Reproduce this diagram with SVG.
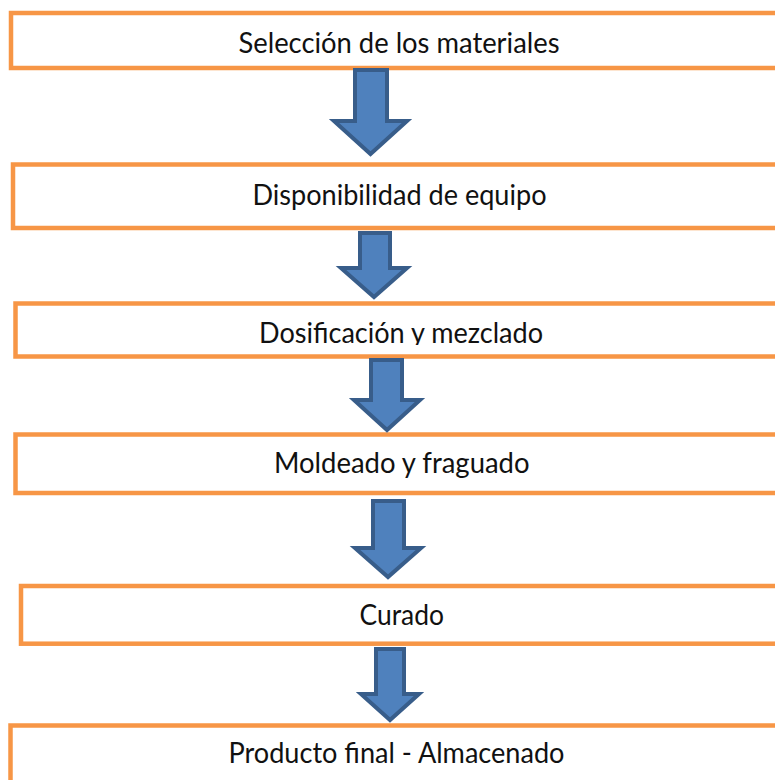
<svg xmlns="http://www.w3.org/2000/svg" width="775" height="780" viewBox="0 0 775 780">
  <style>
    .box { fill: #FFFFFF; stroke: #F79646; stroke-width: 4.5; }
    .arrow { fill: #4F81BD; stroke: #385D8A; stroke-width: 4; stroke-linejoin: miter; }
    .lbl { font-family: Lato, "Open Sans", "Liberation Sans", sans-serif; font-size: 28px; fill: #111111; }
  </style>
  <defs>
    <clipPath id="clip3">
      <rect x="0" y="300" width="775" height="45"/>
    </clipPath>
  </defs>
  <rect width="775" height="780" fill="#FFFFFF"/>

  <g id="node-seleccion">
    <rect class="box" x="11" y="13" width="776" height="55"/>
    <text class="lbl" x="238.5" y="53.3" textLength="321" lengthAdjust="spacingAndGlyphs">Selección de los materiales</text>
  </g>

  <g id="node-disponibilidad">
    <rect class="box" x="13" y="164.5" width="776" height="63.5"/>
    <text class="lbl" x="252.5" y="205" textLength="294" lengthAdjust="spacingAndGlyphs">Disponibilidad de equipo</text>
  </g>

  <g id="node-dosificacion">
    <rect class="box" x="15.5" y="303.5" width="776" height="53"/>
    <text class="lbl" x="259" y="343.3" textLength="284" lengthAdjust="spacingAndGlyphs" clip-path="url(#clip3)">Dosificación y mezclado</text>
  </g>

  <g id="node-moldeado">
    <rect class="box" x="15.5" y="434.5" width="776" height="58.5"/>
    <text class="lbl" x="274" y="473.3" textLength="255.5" lengthAdjust="spacingAndGlyphs">Moldeado y fraguado</text>
  </g>

  <g id="node-curado">
    <rect class="box" x="21" y="586" width="776" height="57.7"/>
    <text class="lbl" x="359.5" y="625" textLength="84.5" lengthAdjust="spacingAndGlyphs">Curado</text>
  </g>

  <g id="node-producto">
    <rect class="box" x="10.5" y="725.5" width="776" height="80"/>
    <text class="lbl" x="228.5" y="763.3" textLength="336" lengthAdjust="spacingAndGlyphs">Producto final - Almacenado</text>
  </g>

  <g id="connectors">
    <path class="arrow" d="M355,70 L387,70 L387,121 L407,121 L370.5,154 L334,121 L355,121 Z"/>
    <path class="arrow" d="M360,233 L390,233 L390,268 L407,268 L374,297 L341,268 L360,268 Z"/>
    <path class="arrow" d="M371,360 L402,360 L402,400 L420,400 L387,430 L354,400 L371,400 Z"/>
    <path class="arrow" d="M373,501 L404,501 L404,548 L421,548 L388,577 L355,548 L373,548 Z"/>
    <path class="arrow" d="M376,649 L404,649 L404,694 L419,694 L390,720 L361,694 L376,694 Z"/>
  </g>
</svg>
